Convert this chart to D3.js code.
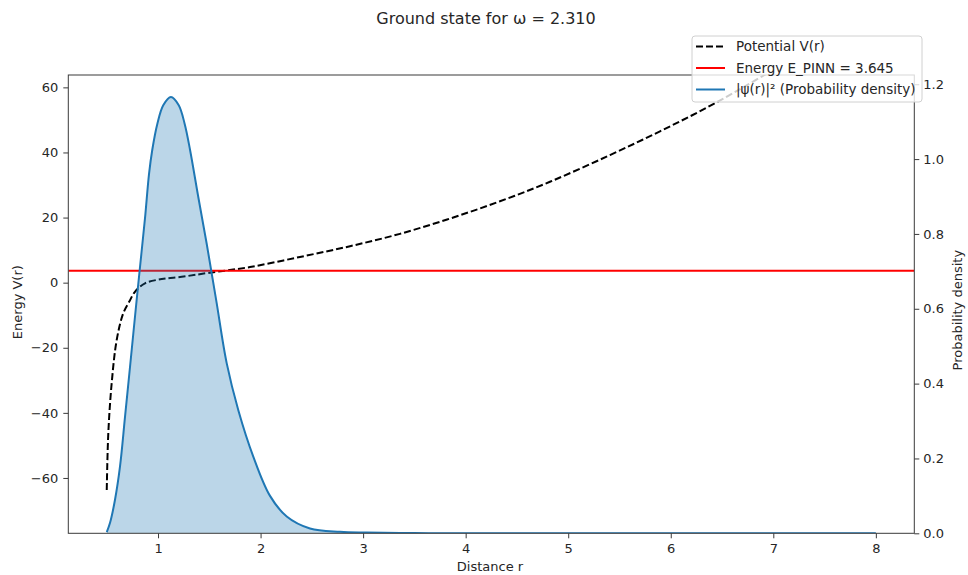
<!DOCTYPE html>
<html>
<head>
<meta charset="utf-8">
<script src="https://cdn.jsdelivr.net/npm/d3@7"></script>
<style>
  html, body { margin: 0; padding: 0; background: #fff; }
  svg { display: block; font-family: "DejaVu Sans", sans-serif; }
</style>
</head>
<body>
<svg id="chart" width="968" height="575"></svg>
<script>
// ---- data ----
const omega = 2.310;
const energyPINN = 3.645;

const rPot = [0.5, 0.515, 0.548, 0.597, 0.661, 0.72, 0.775, 0.873, 1.036, 1.231, 1.49, 1.897, 2.384, 2.872, 3.359, 3.847, 4.334, 4.822, 5.407, 5.895, 6.382, 6.87, 7.5, 8];
const potential = [-63.7, -46.3, -30.9, -17.6, -9.4, -5.8, -2.8, -0.2, 1.1, 1.8, 3.0, 4.8, 7.9, 11.2, 15.0, 19.7, 25.0, 31.0, 39.2, 46.5, 54.3, 63.0, 75.0, 85.3];

const rPsi = [0.5, 0.532, 0.58, 0.629, 0.678, 0.727, 0.775, 0.824, 0.873, 0.912, 0.944, 0.993, 1.051, 1.126, 1.202, 1.26, 1.312, 1.393, 1.475, 1.523, 1.572, 1.67, 1.783, 1.929, 2.092, 2.255, 2.482, 2.775, 3.035, 3.5, 4, 5, 6, 7, 8];
const psi2 = [0.003, 0.028, 0.089, 0.178, 0.311, 0.445, 0.578, 0.711, 0.842, 0.960, 1.025, 1.094, 1.144, 1.166, 1.144, 1.094, 1.025, 0.898, 0.773, 0.695, 0.615, 0.454, 0.329, 0.205, 0.100, 0.045, 0.013, 0.004, 0.002, 0.0005, 0, 0, 0, 0, 0];

const xTicks = [1, 2, 3, 4, 5, 6, 7, 8];
const yLeftTicks = [-60, -40, -20, 0, 20, 40, 60];
const yRightTicks = [0.0, 0.2, 0.4, 0.6, 0.8, 1.0, 1.2];

const legendLabels = ["Potential V(r)", "Energy E_PINN = 3.645", "|ψ(r)|² (Probability density)"];

// ---- layout ----
const svg = d3.select("#chart");
const L = 68.3, R = 914.3, T = 75, B = 533.3;
const textColor = "#262626";
const spineColor = "#3a3a3a";
const fs = 13;

const x = d3.scaleLinear().domain([0.125, 8.375]).range([L, R]);
const yL = d3.scaleLinear().domain([-77.0, 63.8]).range([B, T]);
const yR = d3.scaleLinear().domain([0, 1.2247]).range([B, T]);

svg.append("defs").append("clipPath").attr("id", "clip")
  .append("rect").attr("x", L).attr("y", T).attr("width", R - L).attr("height", B - T);

const plot = svg.append("g").attr("clip-path", "url(#clip)");
const curve = d3.curveCatmullRom.alpha(0.5);

// potential (dashed black)
const potData = rPot.map((r, i) => [r, potential[i]]);
plot.append("path")
  .datum(potData)
  .attr("fill", "none")
  .attr("stroke", "#000")
  .attr("stroke-width", 2)
  .attr("stroke-dasharray", "7,3")
  .attr("d", d3.line().x(d => x(d[0])).y(d => yL(d[1])).curve(curve));

// energy line
plot.append("line")
  .attr("x1", L).attr("x2", R)
  .attr("y1", yL(energyPINN)).attr("y2", yL(energyPINN))
  .attr("stroke", "#ff0000").attr("stroke-width", 2);

// probability density (twin axis)
const psiData = rPsi.map((r, i) => [r, psi2[i]]);
plot.append("path")
  .datum(psiData)
  .attr("fill", "#1f77b4")
  .attr("fill-opacity", 0.3)
  .attr("d", d3.area().x(d => x(d[0])).y0(yR(0)).y1(d => yR(Math.max(0, d[1]))).curve(curve));
plot.append("path")
  .datum(psiData)
  .attr("fill", "none")
  .attr("stroke", "#1f77b4")
  .attr("stroke-width", 2)
  .attr("d", d3.line().x(d => x(d[0])).y(d => yR(d[1])).curve(curve));

// ---- axes ----
function styleAxis(g) {
  g.select(".domain").remove();
  g.selectAll(".tick line").attr("stroke", spineColor).attr("stroke-width", 1);
  g.selectAll(".tick text").attr("fill", textColor).attr("font-size", fs).attr("font-family", "DejaVu Sans");
}
const fmtMinus = d => (d < 0 ? "−" + Math.abs(d) : String(d));

svg.append("g").attr("transform", `translate(0,${B})`)
  .call(d3.axisBottom(x).tickValues(xTicks).tickSize(5).tickPadding(5).tickFormat(d3.format("d")))
  .call(styleAxis);

svg.append("g").attr("transform", `translate(${L},0)`)
  .call(d3.axisLeft(yL).tickValues(yLeftTicks).tickSize(5).tickPadding(5).tickFormat(fmtMinus))
  .call(styleAxis);

svg.append("g").attr("transform", `translate(${R},0)`)
  .call(d3.axisRight(yR).tickValues(yRightTicks).tickSize(5).tickPadding(4).tickFormat(d3.format(".1f")))
  .call(styleAxis);

// spines
svg.append("rect")
  .attr("x", L).attr("y", T).attr("width", R - L).attr("height", B - T)
  .attr("fill", "none").attr("stroke", spineColor).attr("stroke-width", 1);

// axis labels
svg.append("text").attr("x", 490).attr("y", 571)
  .attr("text-anchor", "middle").attr("fill", textColor).attr("font-size", fs)
  .text("Distance r");
svg.append("text").attr("transform", `translate(21.5,${(T + B) / 2 - 2}) rotate(-90)`)
  .attr("text-anchor", "middle").attr("fill", textColor).attr("font-size", fs)
  .text("Energy V(r)");
svg.append("text").attr("transform", `translate(961.5,${(T + B) / 2 + 6}) rotate(-90)`)
  .attr("text-anchor", "middle").attr("fill", textColor).attr("font-size", fs)
  .text("Probability density");

// title
svg.append("text").attr("x", 486).attr("y", 24)
  .attr("text-anchor", "middle").attr("fill", textColor).attr("font-size", 16)
  .text(`Ground state for ω = ${omega.toFixed(3)}`);

// ---- legend ----
const lg = svg.append("g");
lg.append("rect")
  .attr("x", 692).attr("y", 36).attr("width", 230).attr("height", 66)
  .attr("rx", 3).attr("ry", 3)
  .attr("fill", "#fff").attr("fill-opacity", 0.8)
  .attr("stroke", "#d0d0d0").attr("stroke-width", 1);
const legendStyles = [
  { color: "#000", dash: "7,3" },
  { color: "#ff0000", dash: null },
  { color: "#1f77b4", dash: null }
];
legendLabels.forEach((lab, i) => {
  const yy = 46.5 + i * 21.5;
  lg.append("line").attr("x1", 696).attr("x2", 725).attr("y1", yy).attr("y2", yy)
    .attr("stroke", legendStyles[i].color).attr("stroke-width", 2)
    .attr("stroke-dasharray", legendStyles[i].dash);
  lg.append("text").attr("x", 736).attr("y", yy + 4.5)
    .attr("fill", textColor).attr("font-size", 13.5).text(lab);
});
</script>
</body>
</html>
